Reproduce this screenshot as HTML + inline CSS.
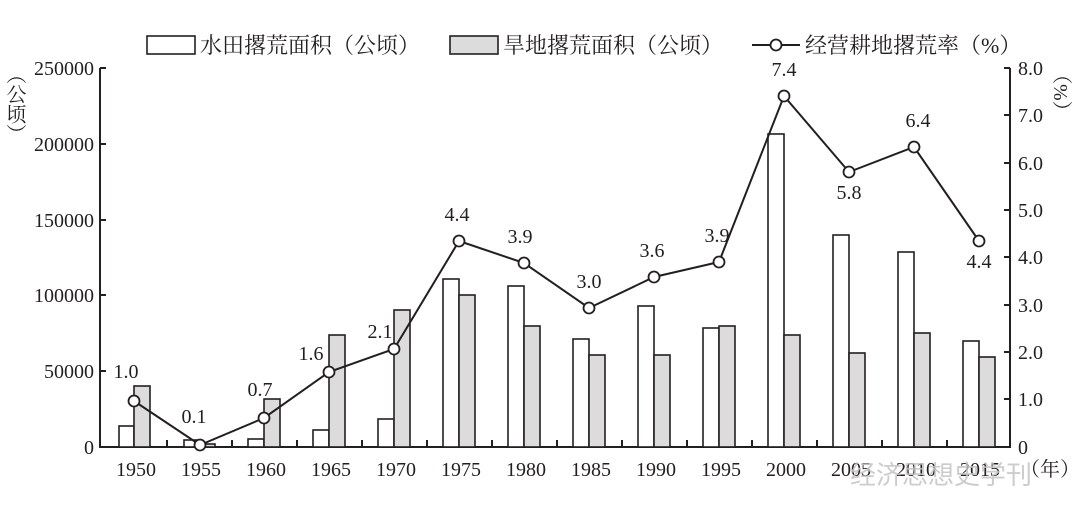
<!DOCTYPE html><html><head><meta charset="utf-8"><style>body{margin:0;background:#fff}svg{display:block}text{font-family:"Liberation Serif","Noto Serif CJK SC",serif;fill:#231f20}</style></head><body>
<svg width="1080" height="521" viewBox="0 0 1080 521" xmlns="http://www.w3.org/2000/svg">
<g stroke="#231f20" stroke-width="2" fill="none">
<line x1="100" y1="68" x2="100" y2="447"/><line x1="1010" y1="68" x2="1010" y2="447"/><line x1="99" y1="447" x2="1011" y2="447"/>
<line x1="100" y1="68" x2="106" y2="68"/><line x1="100" y1="144" x2="106" y2="144"/><line x1="100" y1="220" x2="106" y2="220"/><line x1="100" y1="295" x2="106" y2="295"/><line x1="100" y1="371" x2="106" y2="371"/>
<line x1="1004" y1="68" x2="1010" y2="68"/><line x1="1004" y1="115" x2="1010" y2="115"/><line x1="1004" y1="163" x2="1010" y2="163"/><line x1="1004" y1="210" x2="1010" y2="210"/><line x1="1004" y1="257" x2="1010" y2="257"/><line x1="1004" y1="305" x2="1010" y2="305"/><line x1="1004" y1="352" x2="1010" y2="352"/><line x1="1004" y1="399" x2="1010" y2="399"/>
<path d="M167 447v-7M232 447v-7M297 447v-7M362 447v-7M427 447v-7M492 447v-7M557 447v-7M622 447v-7M687 447v-7M752 447v-7M817 447v-7M882 447v-7M947 447v-7"/>
</g>
<g stroke="#231f20" stroke-width="1.6">
<g fill="#fff">
<rect x="119" y="426" width="15" height="21"/><rect x="184" y="440" width="15" height="7"/><rect x="248" y="439" width="16" height="8"/><rect x="313" y="430" width="16" height="17"/><rect x="378" y="419" width="16" height="28"/><rect x="443" y="279" width="16" height="168"/><rect x="508" y="286" width="16" height="161"/><rect x="573" y="339" width="16" height="108"/><rect x="638" y="306" width="16" height="141"/><rect x="703" y="328" width="16" height="119"/><rect x="768" y="134" width="16" height="313"/><rect x="833" y="235" width="16" height="212"/><rect x="898" y="252" width="16" height="195"/><rect x="963" y="341" width="16" height="106"/>
</g>
<g fill="#dcdcdc">
<rect x="134" y="386" width="16" height="61"/><rect x="199" y="444" width="16" height="3"/><rect x="264" y="399" width="16" height="48"/><rect x="329" y="335" width="16" height="112"/><rect x="394" y="310" width="16" height="137"/><rect x="459" y="295" width="16" height="152"/><rect x="524" y="326" width="16" height="121"/><rect x="589" y="355" width="16" height="92"/><rect x="654" y="355" width="16" height="92"/><rect x="719" y="326" width="16" height="121"/><rect x="784" y="335" width="16" height="112"/><rect x="849" y="353" width="16" height="94"/><rect x="914" y="333" width="16" height="114"/><rect x="979" y="357" width="16" height="90"/>
</g>
<polyline fill="none" stroke-width="2" points="134,401 200,445 264,418 329,372 394,349 459,241 524,263 589,308 654,277 719,262 784,96 849,172 914,147 979,241"/>
<g fill="#fff" stroke-width="1.8">
<circle cx="134" cy="401" r="5.5"/><circle cx="200" cy="445" r="5.5"/><circle cx="264" cy="418" r="5.5"/><circle cx="329" cy="372" r="5.5"/><circle cx="394" cy="349" r="5.5"/><circle cx="459" cy="241" r="5.5"/><circle cx="524" cy="263" r="5.5"/><circle cx="589" cy="308" r="5.5"/><circle cx="654" cy="277" r="5.5"/><circle cx="719" cy="262" r="5.5"/><circle cx="784" cy="96" r="5.5"/><circle cx="849" cy="172" r="5.5"/><circle cx="914" cy="147" r="5.5"/><circle cx="979" cy="241" r="5.5"/>
</g>
<rect x="147" y="36" width="48" height="18" fill="#fff"/><rect x="450" y="36" width="48" height="18" fill="#dcdcdc"/>
<line x1="752" y1="45" x2="800" y2="45" stroke-width="2"/><circle cx="776" cy="45" r="5.5" fill="#fff" stroke-width="1.8"/>
</g>
<g font-size="20">
<g font-size="22"><text x="200" y="53">水田撂荒面积（公顷）</text><text x="503" y="53">旱地撂荒面积（公顷）</text><text x="805" y="53">经营耕地撂荒率（%）</text></g>
<g text-anchor="end"><text x="94" y="75">250000</text><text x="94" y="151">200000</text><text x="94" y="227">150000</text><text x="94" y="302">100000</text><text x="94" y="378">50000</text><text x="94" y="454">0</text></g>
<g><text x="1018" y="75">8.0</text><text x="1018" y="122">7.0</text><text x="1018" y="170">6.0</text><text x="1018" y="217">5.0</text><text x="1018" y="264">4.0</text><text x="1018" y="312">3.0</text><text x="1018" y="359">2.0</text><text x="1018" y="406">1.0</text><text x="1018" y="454">0</text></g>
<g text-anchor="middle"><text x="136" y="476">1950</text><text x="201" y="476">1955</text><text x="266" y="476">1960</text><text x="331" y="476">1965</text><text x="396" y="476">1970</text><text x="461" y="476">1975</text><text x="526" y="476">1980</text><text x="591" y="476">1985</text><text x="656" y="476">1990</text><text x="721" y="476">1995</text><text x="786" y="476">2000</text><text x="851" y="476">2005</text><text x="916" y="476">2010</text><text x="980" y="476">2015</text></g>
<text x="1020" y="476">（年）</text>
<g text-anchor="middle"><text x="126" y="378">1.0</text><text x="194" y="423">0.1</text><text x="260" y="396">0.7</text><text x="311" y="360">1.6</text><text x="380" y="338">2.1</text><text x="457" y="221">4.4</text><text x="520" y="243">3.9</text><text x="589" y="288">3.0</text><text x="652" y="257">3.6</text><text x="717" y="242">3.9</text><text x="784" y="76">7.4</text><text x="849" y="199">5.8</text><text x="918" y="127">6.4</text><text x="979" y="268">4.4</text></g>
<text x="14" y="64" writing-mode="tb">（公顷）</text><text x="1060" y="64" writing-mode="tb">（%）</text>
</g>
<text x="850" y="484" font-size="26" style="fill:#c4c4c4;font-family:'Noto Sans CJK SC',sans-serif" opacity="0.85">经济思想史学刊</text>
</svg></body></html>
